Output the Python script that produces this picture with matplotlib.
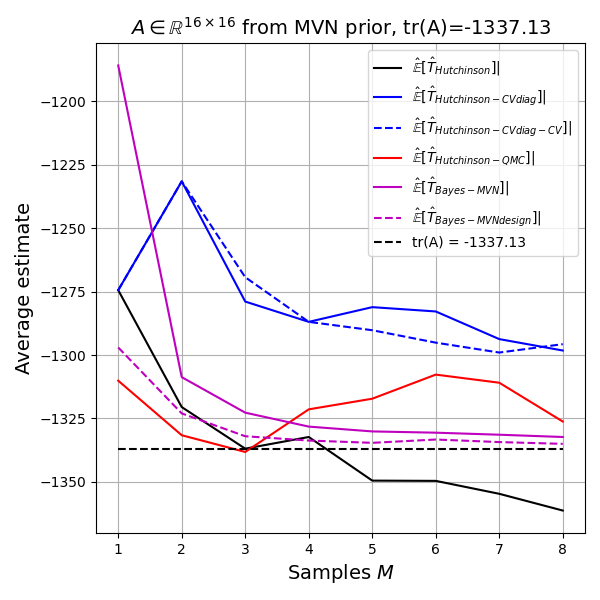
import matplotlib
matplotlib.use("Agg")
import matplotlib.pyplot as plt

M = [1, 2, 3, 4, 5, 6, 7, 8]
hutch = [-1274.4, -1320.5, -1336.9, -1332.3, -1349.5, -1349.6, -1354.7, -1361.3]
hutch_cvdiag = [-1274.4, -1231.5, -1278.9, -1286.9, -1281.1, -1282.8, -1293.7, -1298.2]
hutch_cvdiag_cv = [-1274.4, -1231.5, -1269.3, -1286.9, -1290.2, -1295.1, -1299.0, -1295.7]
hutch_qmc = [-1310.1, -1331.6, -1338.2, -1321.4, -1317.2, -1307.7, -1310.9, -1326.2]
bayes_mvn = [-1185.8, -1308.7, -1322.7, -1328.2, -1330.1, -1330.6, -1331.4, -1332.3]
bayes_mvn_design = [-1297.0, -1323.0, -1332.0, -1333.7, -1334.6, -1333.3, -1334.3, -1335.0]
true_trace = -1337.13

fig = plt.figure(figsize=(6, 6), dpi=100)
ax = fig.add_axes([0.16, 0.112, 0.815, 0.816])
ax.plot(M, hutch, color='k', label=r'$\hat{\mathbb{E}}[\hat{T}_{Hutchinson}]|$')
ax.plot(M, hutch_cvdiag, color='b', label=r'$\hat{\mathbb{E}}[\hat{T}_{Hutchinson-CVdiag}]|$')
ax.plot(M, hutch_cvdiag_cv, color='b', linestyle='--', label=r'$\hat{\mathbb{E}}[\hat{T}_{Hutchinson-CVdiag-CV}]|$')
ax.plot(M, hutch_qmc, color='r', label=r'$\hat{\mathbb{E}}[\hat{T}_{Hutchinson-QMC}]|$')
ax.plot(M, bayes_mvn, color='m', label=r'$\hat{\mathbb{E}}[\hat{T}_{Bayes-MVN}]|$')
ax.plot(M, bayes_mvn_design, color='m', linestyle='--', label=r'$\hat{\mathbb{E}}[\hat{T}_{Bayes-MVNdesign}]|$')
ax.plot(M, [true_trace] * len(M), color='k', linestyle='--', label='tr(A) = %.2f' % true_trace)
ax.grid(True)
ax.set_xlabel(r'Samples $M$', fontsize=14)
ax.set_ylabel('Average estimate', fontsize=14)
ax.set_title(r'$A \in \mathbb{R}^{16 \times 16}$ from MVN prior, tr(A)=%.2f' % true_trace, fontsize=14)
ax.legend(loc='upper right', fontsize=10)
fig.savefig('out.png', dpi=100)
